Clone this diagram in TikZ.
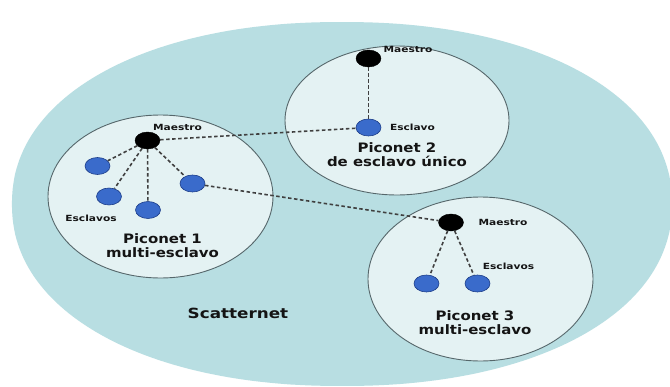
\documentclass[tikz,border=0pt]{standalone}
\usepackage{fontspec}
\usepackage{graphicx}
\setmainfont{DejaVu Sans}
\usetikzlibrary{shapes.geometric}
\definecolor{scat}{HTML}{B8DEE2}
\definecolor{pico}{HTML}{E4F2F3}
\definecolor{picoedge}{HTML}{56676B}
\definecolor{slavefill}{HTML}{3A6BCB}
\definecolor{slaveedge}{HTML}{1E3F8A}
\definecolor{linkc}{HTML}{404040}
\definecolor{txt}{HTML}{141414}
\newcommand{\lblS}[1]{\scalebox{1.25}[1]{\fontsize{8.5}{10}\selectfont\bfseries #1}}
\newcommand{\lblB}[2]{\scalebox{1.15}[1]{\fontsize{13}{14}\selectfont\bfseries\begin{tabular}{@{}c@{}}#1\\#2\end{tabular}}}
\begin{document}
\begin{tikzpicture}[x=1pt,y=-1pt,
  piconet/.style={ellipse, draw=picoedge, line width=0.9pt, fill=pico, inner sep=0pt},
  master/.style={ellipse, fill=black, draw=black, minimum width=25, minimum height=17, inner sep=0pt},
  slave/.style={ellipse, fill=slavefill, draw=slaveedge, line width=0.6pt, minimum width=25, minimum height=17, inner sep=0pt},
  link/.style={draw=linkc, line width=1.6pt, dash pattern=on 3.5pt off 2.5pt},
  lab/.style={inner sep=0pt, text=txt}]
\useasboundingbox (0,0) rectangle (670,386);
\fill[white] (0,0) rectangle (670,386);
\clip (0,0) rectangle (670,386);
% scatternet area
\fill[scat] plot[domain=0:360, samples=240, variable=\t]
  ({342+330*sign(cos(\t))*pow(abs(cos(\t))+0.00001,0.93)},
   {204+182*sign(sin(\t))*pow(abs(sin(\t))+0.00001,0.93)}) -- cycle;
% piconets
\node[piconet, minimum width=225, minimum height=163] (c1) at (160.5,196.5) {};
\node[piconet, minimum width=224, minimum height=149] (c2) at (397,120.5) {};
\node[piconet, minimum width=225, minimum height=164] (c3) at (480.5,279) {};
% devices
\node[master] (m1) at (147.5,140.5) {};
\node[slave] (s11) at (97.5,166) {};
\node[slave] (s12) at (109,196.5) {};
\node[slave] (s13) at (148,210) {};
\node[slave] (s14) at (192.5,183.5) {};
\node[master] (m2) at (368.5,58.5) {};
\node[slave] (s2) at (368.5,127.5) {};
\node[master] (m3) at (451,222.5) {};
\node[slave] (s31) at (426.5,283.5) {};
\node[slave] (s32) at (477.5,283.5) {};
% links
\draw[link] (m1) -- (s11);
\draw[link] (m1) -- (s12);
\draw[link] (m1) -- (s13);
\draw[link] (m1) -- (s14);
\draw[link] (m1) -- (s2);
\draw[link] (m2) -- (s2);
\draw[link] (s14) -- (m3);
\draw[link] (m3) -- (s31);
\draw[link] (m3) -- (s32);
% labels
\node[lab] (l1m) at (177.5,127) {\lblS{Maestro}};
\node[lab] (l1s) at (91,218) {\lblS{Esclavos}};
\node[lab] (l1t) at (162.5,247.3) {\lblB{Piconet 1}{multi-esclavo}};
\node[lab] (l2m) at (408,49) {\lblS{Maestro}};
\node[lab] (l2s) at (412.5,127) {\lblS{Esclavo}};
\node[lab] (l2t) at (397,156.8) {\lblB{Piconet 2}{de esclavo único}};
\node[lab] (l3m) at (503,222.5) {\lblS{Maestro}};
\node[lab] (l3s) at (508.5,266) {\lblS{Esclavos}};
\node[lab] (l3t) at (475,325) {\lblB{Piconet 3}{multi-esclavo}};
\node[lab] (lsc) at (238,313.5) {\scalebox{1.2}[1]{\fontsize{14}{16}\selectfont\bfseries Scatternet}};
\end{tikzpicture}
\end{document}
